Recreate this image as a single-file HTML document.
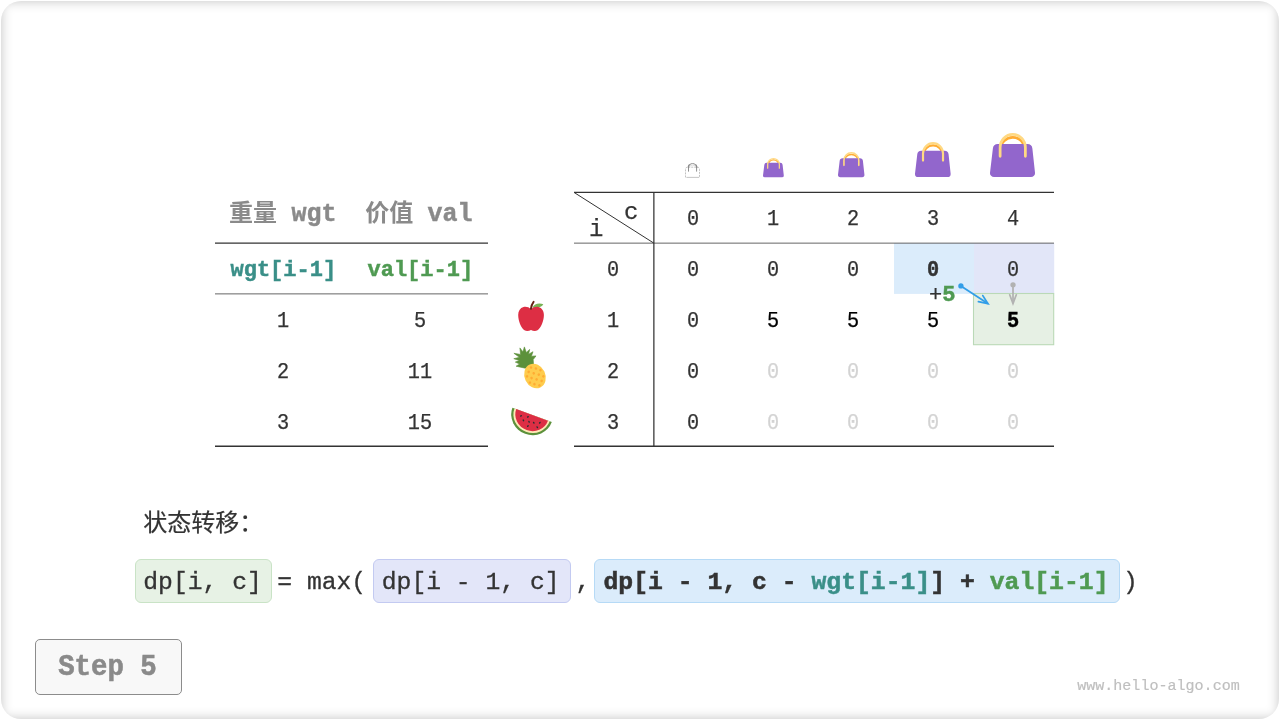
<!DOCTYPE html>
<html lang="zh-CN">
<head>
<meta charset="utf-8">
<title>0-1 背包问题 - 动态规划 Step 5</title>
<style>
html, body { margin: 0; padding: 0; background: #ffffff; }
body {
  position: relative; width: 1280px; height: 720px; overflow: hidden;
  font-family: "Liberation Mono", "Noto Sans CJK SC", monospace;
  color: #333333;
}
.frame {
  position: absolute; left: 1px; top: 1px; width: 1278px; height: 718px;
  border-radius: 20px; background: #ffffff; overflow: hidden;
}
.frame .shade {
  position: absolute; left: 0; top: 0; width: 1278px; height: 718px;
  box-shadow: inset 0 0 12px rgba(0, 0, 0, 0.25);
}
svg { position: absolute; overflow: visible; }
.t { position: absolute; line-height: 1; white-space: pre; color: #333333; -webkit-text-stroke: 0.25px; }
/* table cells: 22px mono, centred in an 80px (or 136px) wide slot */
.c { position: absolute; width: 80px; line-height: 1; text-align: center; font-size: 22px; color: #333333; white-space: pre; -webkit-text-stroke: 0.25px; }
.c { transform: scaleX(0.92); }
.w { width: 136px; }
.c.b.teal, .c.b.green { transform: none; }
.b { font-weight: bold; -webkit-text-stroke: 0.45px; }
.k { color: #000000; }
.g { color: #d3d3d3; }
.teal { color: #3a8f88; }
.green { color: #4f9a52; }
.hd { font-size: 24px; font-weight: bold; color: #8a8a8a; -webkit-text-stroke: 0; }
.hd span { font-size: 25px; -webkit-text-stroke: 0.45px; }
.r0 { top: 209px; } .r1 { top: 260px; } .r2 { top: 311px; } .r3 { top: 362px; } .r4 { top: 413px; }
/* formula */
.fx { position: absolute; top: 570px; font-size: 24.7px; line-height: 1; white-space: pre; color: #333333; -webkit-text-stroke: 0.3px; }
.fx.b { font-size: 24.75px; -webkit-text-stroke: 0.5px; }
.box { position: absolute; box-sizing: border-box; top: 559px; height: 44px; border-radius: 6px; border: 1px solid; }
.step {
  position: absolute; left: 35px; top: 639px; width: 147px; height: 56px; box-sizing: border-box;
  border: 1px solid #8c8c8c; border-radius: 5px; background: #f8f8f8;
}
.step span { position: absolute; left: -1px; width: 145px; top: 14px; text-align: center; line-height: 1;
  font-size: 27.4px; font-weight: bold; color: #8a8a8a; white-space: pre; -webkit-text-stroke: 0.55px;
  transform: scaleY(1.05); transform-origin: 50% 77%; }
.wm { position: absolute; left: 1077.2px; top: 679px; font-size: 15.05px; line-height: 1; color: #bfbfbf; white-space: pre; -webkit-text-stroke: 0.2px; }
.title { position: absolute; left: 143.2px; top: 513px; font-size: 24px; line-height: 1; color: #333333; white-space: pre; -webkit-text-stroke: 0.2px; }
</style>
</head>
<body>
<div class="frame"><div class="shade"></div></div>

<!-- ===== rules, highlight cells and arrows ===== -->
<svg style="left:0;top:0;" width="1280" height="720" viewBox="0 0 1280 720">
  <rect x="894" y="243.2" width="80" height="50.7" fill="#dbecfb"/>
  <rect x="974" y="243.2" width="80.2" height="50.4" fill="#e2e6f8"/>
  <rect x="973.5" y="293.5" width="80.2" height="51.2" fill="#e6f0e4" stroke="#bad9b7" stroke-width="1.1"/>
  <g stroke="#333333" fill="none">
    <line x1="215" y1="243.125" x2="488" y2="243.125" stroke-width="1.25"/>
    <line x1="215" y1="293.875" x2="488" y2="293.875" stroke-width="0.75"/>
    <line x1="215" y1="446.25" x2="488" y2="446.25" stroke-width="1.5"/>
    <line x1="574" y1="192.375" x2="1054" y2="192.375" stroke-width="1.25"/>
    <line x1="574" y1="243.125" x2="1054" y2="243.125" stroke-width="0.75"/>
    <line x1="574" y1="446.25" x2="1054" y2="446.25" stroke-width="1.5"/>
    <line x1="653.87" y1="192.3" x2="653.87" y2="446.3" stroke-width="1.25"/>
    <line x1="574" y1="192.4" x2="653.8" y2="243.1" stroke-width="1"/>
  </g>
  <g fill="none" stroke="#329ee8" stroke-width="1.75" stroke-linecap="round" stroke-linejoin="miter">
    <line x1="960.9" y1="285.9" x2="987.4" y2="303.3"/>
    <polyline points="978.4,301.7 988,303.7 982.8,295.6"/>
  </g>
  <circle cx="960.9" cy="285.9" r="2.65" fill="#329ee8"/>
  <g fill="none" stroke="#b2b2b2" stroke-width="1.75" stroke-linecap="round" stroke-linejoin="miter">
    <line x1="1013" y1="284.8" x2="1013" y2="302.6"/>
    <polyline points="1009.7,294.8 1013,303.5 1016.3,294.8"/>
  </g>
  <circle cx="1013" cy="284.8" r="2.65" fill="#b2b2b2"/>
</svg>

<!-- ===== left table: items ===== -->
<div class="t hd" style="left:229px;top:202px;">重量 <span>wgt</span></div>
<div class="t hd" style="left:365.2px;top:202px;">价值 <span>val</span></div>
<div class="c w b teal" style="left:215.3px;top:260px;">wgt[i-1]</div>
<div class="c w b green" style="left:352.3px;top:260px;">val[i-1]</div>
<div class="c w r2" style="left:214.5px;">1</div>
<div class="c w r2" style="left:351.5px;">5</div>
<div class="c w r3" style="left:214.5px;">2</div>
<div class="c w r3" style="left:351.5px;">11</div>
<div class="c w r4" style="left:214.5px;">3</div>
<div class="c w r4" style="left:351.5px;">15</div>

<!-- ===== capacity icons: handbags ===== -->
<svg style="left:681px;top:160px;" width="24" height="20" viewBox="681 160 24 20">
  <path d="M685.5 177.4V169.4Q685.5 167.2 687.7 167.2H697.3Q699.5 167.2 699.5 169.4V177.4" fill="none" stroke="#b2b2b2" stroke-width="0.8" stroke-dasharray="2 1"/>
  <path d="M686.4 177.4H699.2" fill="none" stroke="#bdbdbd" stroke-width="0.9"/>
  <path d="M688.5 171.6V167.6C688.5 162.2 696.6 162.2 696.6 167.6V171.6" fill="none" stroke="#909090" stroke-width="1"/>
  <path d="M688.4 168V166.6C688.6 165.6 689 165 689.6 164.4M696.7 168V166.6C696.5 165.6 696.1 165 695.5 164.4" fill="none" stroke="#8a8a8a" stroke-width="1.3"/>
  <path d="M689.8 166.4C690.8 164.6 694.3 164.6 695.3 166.4" fill="none" stroke="#cfcfcf" stroke-width="0.8"/>
</svg>
<svg style="left:763.1px;top:158.0px;" width="20.8" height="19.3" viewBox="0 0 36 35.3" preserveAspectRatio="none">
  <path d="M8.5 18V13a9.7 9.5 0 0 1 19.4 0V18" fill="none" stroke="#FFAC33" stroke-width="2.3"/>
  <path d="M6.3 8.75H29.9a4 4 0 0 1 4 3.6L36 31.9a3.2 3.2 0 0 1-3.2 3.4H3.2A3.2 3.2 0 0 1 0 31.9L2.3 12.35a4 4 0 0 1 4-3.6z" fill="#9266CC"/>
  <path d="M8.1 18.7V11.6a10.1 10.5 0 0 1 20.2 0v7.1" fill="none" stroke="#FFD983" stroke-width="2.2" stroke-linecap="round"/>
</svg>
<svg style="left:838.3px;top:152.0px;" width="26.45" height="25.2" viewBox="0 0 36 35.3" preserveAspectRatio="none">
  <path d="M8.5 18V13a9.7 9.5 0 0 1 19.4 0V18" fill="none" stroke="#FFAC33" stroke-width="2.3"/>
  <path d="M6.3 8.75H29.9a4 4 0 0 1 4 3.6L36 31.9a3.2 3.2 0 0 1-3.2 3.4H3.2A3.2 3.2 0 0 1 0 31.9L2.3 12.35a4 4 0 0 1 4-3.6z" fill="#9266CC"/>
  <path d="M8.1 18.7V11.6a10.1 10.5 0 0 1 20.2 0v7.1" fill="none" stroke="#FFD983" stroke-width="2.2" stroke-linecap="round"/>
</svg>
<svg style="left:915.2px;top:142.05px;" width="35.65" height="35.1" viewBox="0 0 36 35.3" preserveAspectRatio="none">
  <path d="M8.5 18V13a9.7 9.5 0 0 1 19.4 0V18" fill="none" stroke="#FFAC33" stroke-width="2.3"/>
  <path d="M6.3 8.75H29.9a4 4 0 0 1 4 3.6L36 31.9a3.2 3.2 0 0 1-3.2 3.4H3.2A3.2 3.2 0 0 1 0 31.9L2.3 12.35a4 4 0 0 1 4-3.6z" fill="#9266CC"/>
  <path d="M8.1 18.7V11.6a10.1 10.5 0 0 1 20.2 0v7.1" fill="none" stroke="#FFD983" stroke-width="2.2" stroke-linecap="round"/>
</svg>
<svg style="left:990.3px;top:133.05px;" width="45" height="44.1" viewBox="0 0 36 35.3" preserveAspectRatio="none">
  <path d="M8.5 18V13a9.7 9.5 0 0 1 19.4 0V18" fill="none" stroke="#FFAC33" stroke-width="2.3"/>
  <path d="M6.3 8.75H29.9a4 4 0 0 1 4 3.6L36 31.9a3.2 3.2 0 0 1-3.2 3.4H3.2A3.2 3.2 0 0 1 0 31.9L2.3 12.35a4 4 0 0 1 4-3.6z" fill="#9266CC"/>
  <path d="M8.1 18.7V11.6a10.1 10.5 0 0 1 20.2 0v7.1" fill="none" stroke="#FFD983" stroke-width="2.2" stroke-linecap="round"/>
</svg>

<!-- ===== item icons: apple / pineapple / watermelon ===== -->
<svg style="left:510px;top:296px;" width="44" height="44" viewBox="510 296 44 44">
  <path d="M532.6 307.4C534 303.6 539.6 302.4 543.3 304.3C542 307.2 537.2 308.6 532.6 307.4z" fill="#77B255"/>
  <path d="M531 309.3C529 307 526 306.4 523.5 307C520 308 518.2 311 518.2 315C518.2 321 521 328 524.5 330.3C526.5 331.5 529 331.1 531 329.9C533 331.1 535.5 331.5 537.5 330.3C541 328 543.9 321 543.9 315C543.9 311 542 308 538.5 307C536 306.4 533 307 531 309.3z" fill="#DD2E44"/>
  <path d="M530.9 308.8C531.2 306 532.2 303.6 533.6 301.8" fill="none" stroke="#662113" stroke-width="1.9" stroke-linecap="round"/>
</svg>
<svg style="left:510px;top:344px;" width="44" height="48" viewBox="510 344 44 48">
  <path d="M525.2 368.2L516.1 366.2L519.6 364L515.3 362.1L519.4 360.6L513.8 358.7L519.4 357.3L513.9 353.3L520.6 354.4L519.9 347.9L522.9 351.8L524.4 346.9L526.3 352.4L529.7 349.4L528.6 354.2L533 351.7L531.4 356.2L536 355.9L533.2 359.6L533.6 365z" fill="#5C913B" stroke="#5C913B" stroke-width="0.6" stroke-linejoin="round"/>
  <g transform="rotate(-25 535 376)">
    <ellipse cx="535" cy="376" rx="10.4" ry="12.6" fill="#FFCC4D"/>
    <g fill="#FFAC33">
      <circle cx="535" cy="366.6" r="1.3"/>
      <circle cx="531" cy="369.6" r="1.3"/><circle cx="539" cy="369.6" r="1.3"/>
      <circle cx="527.6" cy="373" r="1.3"/><circle cx="535" cy="373" r="1.3"/><circle cx="542.4" cy="373" r="1.3"/>
      <circle cx="531" cy="376.4" r="1.3"/><circle cx="539" cy="376.4" r="1.3"/>
      <circle cx="527.6" cy="379.8" r="1.3"/><circle cx="535" cy="379.8" r="1.3"/><circle cx="542.4" cy="379.8" r="1.3"/>
      <circle cx="531" cy="383.2" r="1.3"/><circle cx="539" cy="383.2" r="1.3"/>
      <circle cx="535" cy="386.4" r="1.3"/>
    </g>
  </g>
</svg>
<svg style="left:508px;top:400px;" width="48" height="40" viewBox="508 400 48 40">
  <g transform="rotate(20.1 532.1 414.9)">
    <path d="M511.1 414.9A21 20.2 0 0 0 553.1 414.9z" fill="#5C913B"/>
    <path d="M513.3 414.9A18.8 18 0 0 0 550.9 414.9z" fill="#FFE8B6"/>
    <path d="M515.2 414.9A16.9 16.1 0 0 0 549 414.9z" fill="#DD2E44"/>
  </g>
  <g fill="#292F33">
    <ellipse cx="521" cy="415.9" rx="1.1" ry="0.75" transform="rotate(-40 521 415.9)"/>
    <ellipse cx="527.9" cy="416.9" rx="1.1" ry="0.75" transform="rotate(-40 527.9 416.9)"/>
    <ellipse cx="523.4" cy="420.4" rx="1.1" ry="0.75" transform="rotate(60 523.4 420.4)"/>
    <ellipse cx="529.1" cy="421.8" rx="1.1" ry="0.75" transform="rotate(60 529.1 421.8)"/>
    <ellipse cx="533.8" cy="422.7" rx="1.1" ry="0.75" transform="rotate(50 533.8 422.7)"/>
    <ellipse cx="539.8" cy="422.7" rx="1.1" ry="0.75" transform="rotate(-50 539.8 422.7)"/>
    <ellipse cx="527.9" cy="426.1" rx="1.1" ry="0.75" transform="rotate(-50 527.9 426.1)"/>
    <ellipse cx="537.3" cy="427.2" rx="1.1" ry="0.75" transform="rotate(50 537.3 427.2)"/>
  </g>
</svg>

<!-- ===== right table: dp ===== -->
<div class="t" style="left:589px;top:218px;font-size:24px;">i</div>
<div class="t" style="left:624px;top:201px;font-size:24px;">c</div>

<div class="c r0" style="left:653.4px;">0</div>
<div class="c r0" style="left:733.4px;">1</div>
<div class="c r0" style="left:813.4px;">2</div>
<div class="c r0" style="left:893.4px;">3</div>
<div class="c r0" style="left:973.4px;">4</div>

<div class="c r1" style="left:573.4px;">0</div>
<div class="c r1" style="left:653.4px;">0</div>
<div class="c r1" style="left:733.4px;">0</div>
<div class="c r1" style="left:813.4px;">0</div>
<div class="c r1 b" style="left:893.4px;">0</div>
<div class="c r1" style="left:973.4px;">0</div>

<div class="c r2" style="left:573.4px;">1</div>
<div class="c r2" style="left:653.4px;">0</div>
<div class="c r2 k" style="left:733.4px;">5</div>
<div class="c r2 k" style="left:813.4px;">5</div>
<div class="c r2 k" style="left:893.4px;">5</div>
<div class="c r2 k b" style="left:973.4px;">5</div>

<div class="c r3" style="left:573.4px;">2</div>
<div class="c r3" style="left:653.4px;">0</div>
<div class="c r3 g" style="left:733.4px;">0</div>
<div class="c r3 g" style="left:813.4px;">0</div>
<div class="c r3 g" style="left:893.4px;">0</div>
<div class="c r3 g" style="left:973.4px;">0</div>

<div class="c r4" style="left:573.4px;">3</div>
<div class="c r4" style="left:653.4px;">0</div>
<div class="c r4 g" style="left:733.4px;">0</div>
<div class="c r4 g" style="left:813.4px;">0</div>
<div class="c r4 g" style="left:893.4px;">0</div>
<div class="c r4 g" style="left:973.4px;">0</div>

<!-- "+5" label on the transition arrow -->
<div class="t" style="left:929px;top:285px;font-size:22px;">+<span class="green b">5</span></div>

<!-- ===== state transition formula ===== -->
<div class="title">状态转移：</div>

<div class="box" style="left:135px;width:137px;background:#e7f2e5;border-color:#c9e3c6;"></div>
<div class="box" style="left:373px;width:198px;background:#e3e6f9;border-color:#c3caf1;"></div>
<div class="box" style="left:594px;width:526px;background:#dbecfb;border-color:#b6daf6;"></div>

<div class="fx" style="left:143.3px;">dp[i, c]</div>
<div class="fx" style="left:277.3px;">= max(</div>
<div class="fx" style="left:381.8px;">dp[i - 1, c]</div>
<div class="fx" style="left:575.4px;">,</div>
<div class="fx b" style="left:603.5px;">dp[i - 1, c - <span class="teal">wgt[i-1]</span>] + <span class="green">val[i-1]</span></div>
<div class="fx" style="left:1123px;">)</div>

<!-- ===== footer ===== -->
<div class="step"><span>Step 5</span></div>
<div class="wm">www.hello-algo.com</div>
</body>
</html>
